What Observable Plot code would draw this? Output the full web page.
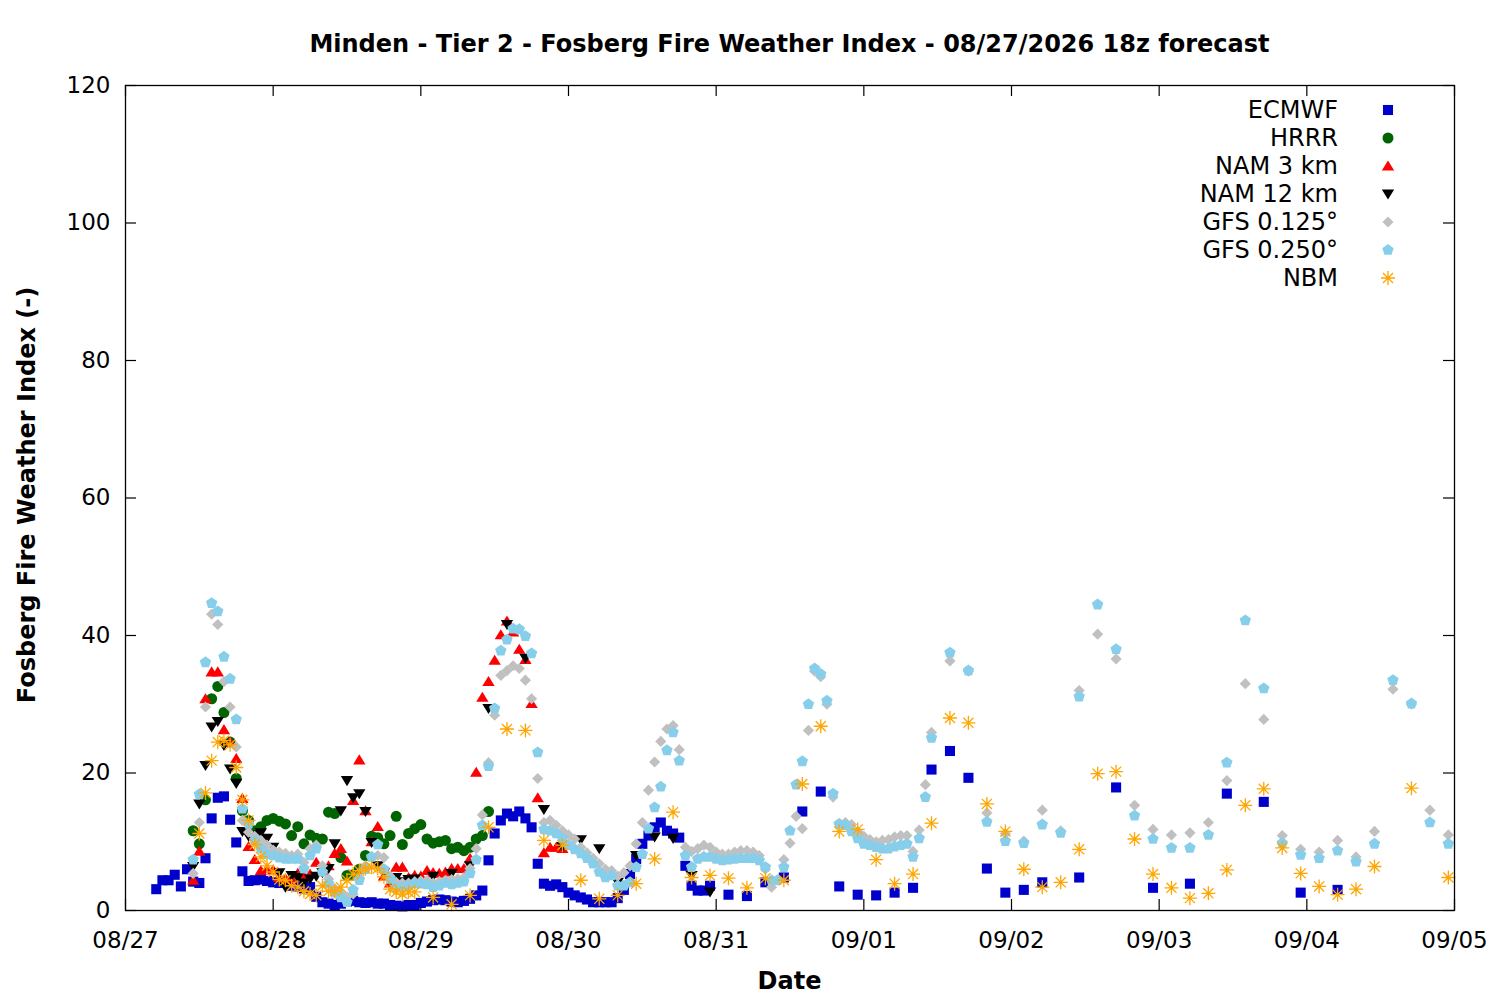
<!DOCTYPE html>
<html><head><meta charset="utf-8">
<script src="https://cdn.jsdelivr.net/npm/d3@7"></script>
<script src="https://cdn.jsdelivr.net/npm/@observablehq/plot@0.6"></script>
<style>
body{margin:0;background:#fff;font-family:"DejaVu Sans",sans-serif;color:#000;}
#wrap{position:relative;width:1500px;height:1000px;overflow:hidden;}
#title{position:absolute;left:125px;width:1329px;top:30px;line-height:28px;text-align:center;font-weight:bold;font-size:24px;white-space:nowrap;}
#xlab{position:absolute;left:125px;width:1329px;top:967px;line-height:28px;text-align:center;font-weight:bold;font-size:24px;}
#ylab{position:absolute;left:27px;top:495px;line-height:28px;font-weight:bold;font-size:24px;white-space:nowrap;transform:translate(-50%,-50%) rotate(-90deg);}
.lrow{position:absolute;right:162px;height:28px;line-height:28px;font-size:24px;white-space:nowrap;text-align:right;}
.lsym{position:absolute;width:24px;height:24px;}
</style>
</head><body>
<div id="wrap">
<div id="chart"></div>
<div id="title"></div>
<div id="xlab"></div>
<div id="ylab"></div>
<div id="legend"></div>
</div>
<script>
// ---------- text ----------
const titleText = "Minden - Tier 2 - Fosberg Fire Weather Index - 08/27/2026 18z forecast";
const xTitle = "Date";
const yTitle = "Fosberg Fire Weather Index (-)";
const xTickHours = [0, 24, 48, 72, 96, 120, 144, 168, 192, 216];
const xTickLabels = ["08/27", "08/28", "08/29", "08/30", "08/31", "09/01", "09/02", "09/03", "09/04", "09/05"];
const yTicks = [0, 20, 40, 60, 80, 100, 120];
const seriesNames = ["ECMWF", "HRRR", "NAM 3 km", "NAM 12 km", "GFS 0.125°", "GFS 0.250°", "NBM"];

// ---------- output schedules (hours after 08/27 00:00) ----------
const ecmwfHours = [...d3.range(5, 96), ...d3.range(98, 150, 3), ...d3.range(155, 198, 6)];
const hrrrHours = d3.range(11, 60);
const nam3Hours = d3.range(11, 72);
const nam12Hours = [...d3.range(11, 48), ...d3.range(50, 96, 3)];
const gfsHours = [...d3.range(11, 132), ...d3.range(134, 216, 3)];
const nbmHours = [...d3.range(12, 48), ...d3.range(50, 204, 3), 209, 215];

// ---------- values ----------
const ecmwfValues = [
  3.1,4.4,4.4,5.2,3.5,6.0,4.2,4.0,7.6,13.4,
  16.4,16.6,13.2,9.9,5.7,4.3,4.4,4.5,4.3,4.1,
  4.0,4.2,3.6,3.5,3.2,3.4,2.0,1.2,1.0,0.8,
  1.0,1.3,1.4,1.2,1.1,1.2,1.0,1.0,0.8,0.7,
  0.6,0.8,0.8,1.1,1.3,1.5,1.6,1.5,1.3,1.2,
  1.4,1.7,2.2,2.9,7.3,11.2,13.1,14.1,13.7,14.4,
  13.4,12.1,6.8,3.9,3.6,3.8,3.4,2.6,2.2,1.9,
  1.6,1.2,1.2,1.2,1.2,1.8,3.0,5.3,7.5,9.7,
  10.9,12.1,12.8,11.6,11.2,10.6,6.5,3.6,2.9,2.9,
  3.6,
  2.3,2.1,4.1,4.8,14.4,17.3,3.5,2.3,2.2,2.6,3.3,20.5,23.2,19.3,6.1,2.6,3.0,4.1,
  4.8,17.9,3.3,3.9,17.0,15.8,2.6,3.0
];
const hrrrValues = [
  11.6,9.7,16.1,30.8,32.6,28.8,24.5,19.2,14.5,13.1,
  11.6,12.2,13.1,13.4,13.0,12.6,10.9,12.2,9.7,11.0,
  10.5,10.4,14.3,14.1,7.7,5.1,5.2,6.0,8.0,10.8,
  10.6,9.7,10.9,13.7,9.6,11.2,11.9,12.5,10.4,9.8,
  10.0,10.2,9.0,9.2,8.7,9.2,10.4,10.9,14.4
];
const nam3Values = [
  4.4,8.6,30.8,34.7,34.7,26.3,24.5,22.1,16.3,9.3,
  7.4,5.8,6.1,5.9,4.8,4.6,4.6,5.4,5.0,5.3,
  7.0,5.8,6.5,8.3,9.0,7.2,16.0,21.9,14.5,10.0,
  12.2,5.0,4.0,6.3,6.3,4.8,5.1,5.0,5.8,5.5,
  5.4,5.6,6.1,6.1,6.1,7.6,20.1,31.0,33.3,36.4,
  40.1,42.1,40.5,38.0,36.5,30.1,16.4,8.4,9.2,9.2,
  9.0
];
const nam12Values = [
  6.4,15.5,21.1,26.7,27.5,24.0,20.6,18.5,11.5,10.8,
  11.0,11.3,10.5,9.2,5.5,3.4,5.1,4.8,4.0,4.6,
  5.0,5.5,6.1,9.7,14.5,18.9,16.4,17.0,14.4,9.9,
  6.5,5.5,4.5,4.8,4.2,4.5,4.6,
  5.0,5.4,6.5,29.4,41.6,36.7,14.7,9.3,10.3,9.0,4.1,8.0,10.7,10.5,5.1,2.7
];
const gfs125Values = [
  5.4,12.8,29.6,43.1,41.6,33.3,29.6,23.8,13.1,11.4,
  10.8,10.2,9.5,8.8,8.5,8.3,8.0,8.2,7.0,9.0,
  9.5,6.5,4.6,3.2,2.5,2.0,2.4,4.8,6.5,7.8,
  8.0,7.7,5.0,4.1,4.0,4.0,4.2,4.3,4.4,4.0,
  4.2,4.4,4.5,4.6,4.8,6.1,9.0,13.9,21.5,28.4,
  34.2,34.9,35.6,35.2,33.5,30.8,19.2,12.8,13.1,12.4,
  11.6,11.0,10.4,9.2,8.4,7.6,6.8,6.0,5.8,5.0,
  5.5,6.5,9.7,12.8,17.5,21.6,24.6,26.4,26.9,23.4,
  9.2,8.6,9.0,9.5,9.2,8.5,8.2,8.2,8.5,8.7,
  8.7,8.5,8.0,6.0,3.4,4.4,7.4,9.8,13.7,11.9,
  26.2,34.8,34.0,30.0,16.5,12.6,12.8,12.5,11.5,10.8,
  10.3,10.0,10.2,10.3,10.7,10.9,10.9,8.6,11.7,18.3,25.9,
  36.3,34.8,14.2,11.2,10.1,14.6,11.6,32.0,40.2,36.6,15.3,11.8,
  11.0,11.3,12.8,18.9,33.0,27.8,10.9,8.9,8.5,10.2,7.8,11.5,32.2,30.0,14.6,11.0
];
const gfs250Values = [
  7.4,16.9,36.1,44.7,43.5,36.9,33.7,27.8,14.8,12.6,
  10.2,9.0,8.2,8.0,7.7,7.5,7.5,7.5,6.1,8.0,
  9.0,5.6,3.9,2.6,1.9,1.2,3.0,4.4,6.0,7.8,
  9.6,6.0,4.6,3.4,3.4,3.6,3.9,3.9,3.8,3.4,
  3.6,4.0,3.8,4.0,4.2,5.4,7.4,12.4,21.0,29.4,
  37.8,39.4,41.0,40.9,39.9,37.4,23.0,11.8,11.6,11.2,
  10.5,9.5,8.9,8.3,7.6,6.8,5.6,4.8,5.1,3.6,
  3.6,4.1,6.3,8.2,11.9,15.0,18.0,23.3,25.9,21.8,
  8.0,6.3,7.5,7.8,7.8,7.5,7.3,7.4,7.5,7.6,
  7.6,7.6,7.3,6.3,4.4,4.4,6.3,11.6,18.3,21.7,
  30.0,35.2,34.4,30.5,17.0,12.6,12.4,11.5,10.5,9.7,
  9.5,9.2,9.0,9.0,9.3,9.5,9.7,7.8,10.5,16.5,25.1,
  37.5,34.9,12.9,10.1,9.8,12.5,11.3,31.1,44.5,38.0,13.8,10.4,
  9.1,9.1,11.0,21.5,42.2,32.3,9.8,8.1,7.6,8.7,7.1,9.7,33.5,30.1,12.8,9.7
];
const nbmValues = [
  11.2,17.1,21.8,24.5,24.7,24.1,20.8,16.1,13.1,9.6,
  7.8,6.5,5.6,4.5,4.4,3.6,3.4,2.8,2.4,2.2,
  3.6,2.8,2.8,3.4,4.4,5.3,5.8,6.1,6.3,6.1,
  4.9,3.1,2.7,2.4,2.7,2.7,
  1.9,0.9,2.2,12.1,26.4,26.2,10.2,9.5,4.4,1.7,
  2.2,3.9,7.5,14.3,4.8,5.1,4.7,3.3,4.7,4.4,
  18.4,26.8,11.5,11.8,7.4,3.9,5.3,12.7,28.0,27.3,
  15.5,11.5,6.0,3.4,4.1,8.9,19.9,20.2,10.4,5.3,
  3.3,1.8,2.5,5.9,15.3,17.7,9.1,5.4,3.5,2.3,
  3.1,6.4,
  17.8,4.8
];

// ---------- symbols ----------
const rad = s => Math.sqrt(s / Math.PI);
const symSquare = {draw(c, s){const h = rad(s)*0.9; c.moveTo(-h,-h); c.lineTo(h,-h); c.lineTo(h,h); c.lineTo(-h,h); c.closePath();}};
const symCircle = {draw(c, s){const r = rad(s); c.moveTo(r,0); c.arc(0,0,r,0,2*Math.PI);}};
const symTriUp = {draw(c, s){const r = rad(s); c.moveTo(0,-r); c.lineTo(r*1.1,r*0.8); c.lineTo(-r*1.1,r*0.8); c.closePath();}};
const symTriDown = {draw(c, s){const r = rad(s); c.moveTo(0,r); c.lineTo(r*1.1,-r*0.8); c.lineTo(-r*1.1,-r*0.8); c.closePath();}};
const symDiamond = {draw(c, s){const r = rad(s); c.moveTo(0,-r); c.lineTo(r,0); c.lineTo(0,r); c.lineTo(-r,0); c.closePath();}};
const symPentagon = {draw(c, s){const r = rad(s); for (let k = 0; k < 5; k++){const a = -Math.PI/2 + k*2*Math.PI/5; const x = r*Math.cos(a), y = r*Math.sin(a); if (k) c.lineTo(x,y); else c.moveTo(x,y);} c.closePath();}};
const symStar = {draw(c, s){const r = rad(s); const d = r*0.72; c.moveTo(-r,0); c.lineTo(r,0); c.moveTo(0,-r); c.lineTo(0,r); c.moveTo(-d,-d); c.lineTo(d,d); c.moveTo(-d,d); c.lineTo(d,-d);}};

const series = [
  {name: seriesNames[0], hours: ecmwfHours, values: ecmwfValues, sym: symSquare, r: 5.6, color: "#0000cd", filled: true},
  {name: seriesNames[1], hours: hrrrHours, values: hrrrValues, sym: symCircle, r: 5.5, color: "#006400", filled: true},
  {name: seriesNames[2], hours: nam3Hours, values: nam3Values, sym: symTriUp, r: 5.6, color: "#ff0000", filled: true},
  {name: seriesNames[3], hours: nam12Hours, values: nam12Values, sym: symTriDown, r: 5.6, color: "#000000", filled: true},
  {name: seriesNames[4], hours: gfsHours, values: gfs125Values, sym: symDiamond, r: 5.6, color: "#c0c0c0", filled: true},
  {name: seriesNames[5], hours: gfsHours, values: gfs250Values, sym: symPentagon, r: 6.0, color: "#87ceeb", filled: true},
  {name: seriesNames[6], hours: nbmHours, values: nbmValues, sym: symStar, r: 7.0, color: "#ffa500", filled: false}
];

const W = 1500, H = 1000, mL = 125, mR = 46, mT = 85, mB = 90;
const innerW = W - mL - mR, innerH = H - mT - mB, tickLen = 11;

const dotMarks = series.map(s => {
  const data = s.hours.map((h, i) => ({h, v: s.values[i]}));
  return s.filled
    ? Plot.dot(data, {x: "h", y: "v", symbol: s.sym, r: s.r, fill: s.color, stroke: "none"})
    : Plot.dot(data, {x: "h", y: "v", symbol: s.sym, r: s.r, fill: "none", stroke: s.color, strokeWidth: 1.3});
});

const chart = Plot.plot({
  width: W, height: H,
  marginLeft: mL, marginRight: mR, marginTop: mT, marginBottom: mB,
  style: {fontFamily: "DejaVu Sans", fontSize: "23px", color: "#000", background: "#fff", overflow: "visible"},
  x: {type: "linear", domain: [0, 216], label: null},
  y: {type: "linear", domain: [0, 120], label: null},
  marks: [
    Plot.tickX(xTickHours, {x: d => d, insetTop: innerH - tickLen, stroke: "#000", strokeWidth: 1.2}),
    Plot.tickX(xTickHours, {x: d => d, insetBottom: innerH - tickLen, stroke: "#000", strokeWidth: 1.2}),
    Plot.tickY(yTicks, {y: d => d, insetRight: innerW - tickLen, stroke: "#000", strokeWidth: 1.2}),
    Plot.tickY(yTicks, {y: d => d, insetLeft: innerW - tickLen, stroke: "#000", strokeWidth: 1.2}),
    Plot.axisX({ticks: xTickHours, tickSize: 0, tickPadding: 21, tickFormat: d => xTickLabels[xTickHours.indexOf(d)], fontSize: 23, label: null}),
    Plot.axisY({ticks: yTicks, tickSize: 0, tickPadding: 15, fontSize: 23, label: null}),
    ...dotMarks,
    Plot.frame({stroke: "#000", strokeWidth: 1.3})
  ]
});
document.getElementById("chart").appendChild(chart);

document.getElementById("title").textContent = titleText;
document.getElementById("xlab").textContent = xTitle;
document.getElementById("ylab").textContent = yTitle;

// legend
const legend = document.getElementById("legend");
series.forEach((s, i) => {
  const cy = 110 + 28 * i;
  const row = document.createElement("div");
  row.className = "lrow";
  row.style.top = (cy - 14) + "px";
  row.textContent = s.name;
  legend.appendChild(row);
  const p = d3.path();
  s.sym.draw(p, Math.PI * s.r * s.r);
  const svg = d3.create("svg").attr("class", "lsym").attr("viewBox", "-12 -12 24 24")
    .style("left", (1388 - 12) + "px").style("top", (cy - 12) + "px");
  svg.append("path").attr("d", p.toString())
    .attr("fill", s.filled ? s.color : "none")
    .attr("stroke", s.filled ? "none" : s.color)
    .attr("stroke-width", s.filled ? 0 : 1.3);
  legend.appendChild(svg.node());
});
</script>
</body></html>
